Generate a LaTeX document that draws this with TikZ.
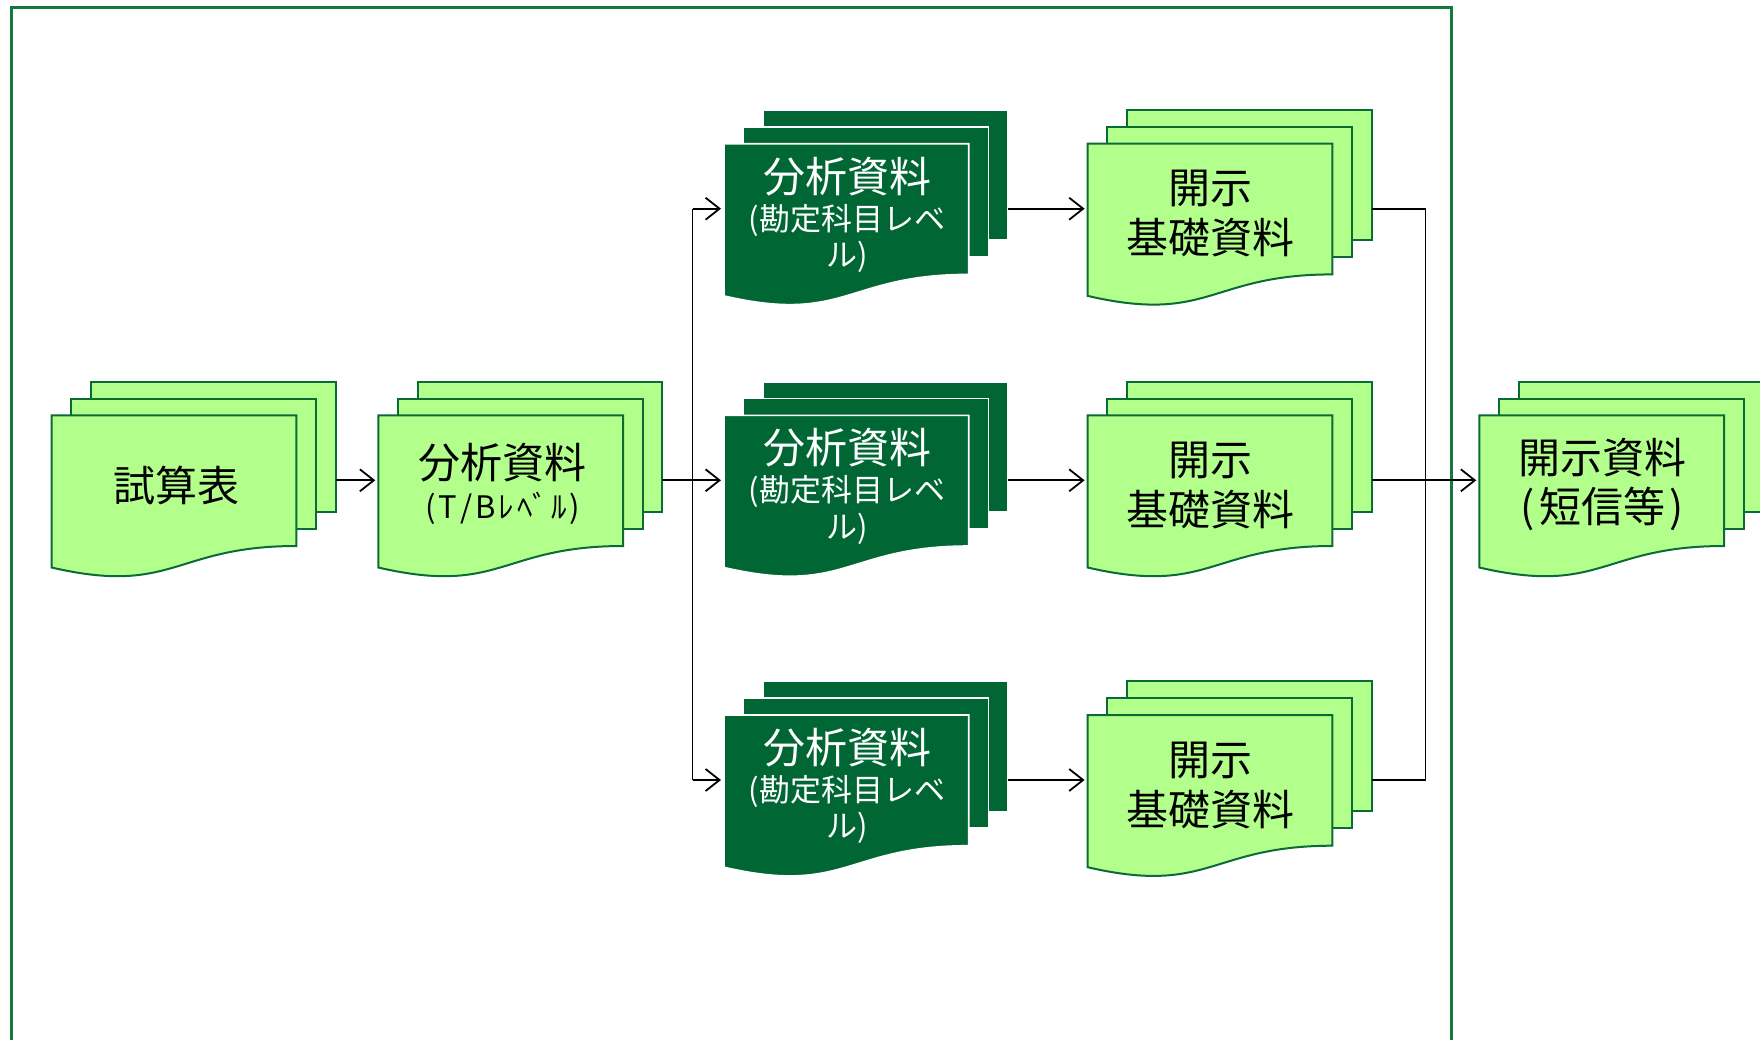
\documentclass[tikz,border=0pt]{standalone}
\usepackage{fontspec}
\setmainfont{Noto Sans CJK JP}
\usetikzlibrary{arrows.meta}
\definecolor{lgreen}{HTML}{B3FF8C}
\definecolor{dgreen}{HTML}{006633}
\definecolor{edgegreen}{HTML}{0B6B35}
\definecolor{framegreen}{HTML}{137A3E}
\tikzset{
  lay/.style={minimum width=244.7pt, minimum height=130pt, inner sep=0pt, outer sep=0pt},
  lightdoc/.style={fill=lgreen, draw=edgegreen, line width=2pt, line join=miter},
  darkdoc/.style={fill=dgreen, draw=white, line width=1.6pt, line join=miter},
  bigtxt/.style={inner sep=0pt, font=\fontsize{42}{48}\selectfont},
  smalltxt/.style={inner sep=0pt, font=\fontsize{31}{36}\selectfont},
  conn/.style={line width=1.8pt, draw=black},
  arr/.style={conn, -{Straight Barb[length=14pt,width=22pt,line width=1.8pt]}, shorten >=3pt},
  frameline/.style={draw=framegreen, line width=3pt}
}
\newcommand{\docgroup}[4]{%
  \begin{scope}[shift={(#2,#3)}]
    \node[lay, #4, anchor=north west] (#1-b) at (39.2,-33.6) {};
    \node[lay, #4, anchor=north west] (#1-m) at (19.6,-16.8) {};
    \path[#4] (0,0) -- (244.7,0) -- (244.7,130.7)
       .. controls (122.35,130.7) and (122.35,180.5) .. (0,152.2) -- cycle;
    \node[lay, anchor=north west] (#1) at (0,0) {};
  \end{scope}}
\newcommand{\ks}{\kern3pt}
\begin{document}
\begin{tikzpicture}[x=1pt,y=-1pt]
\clip (0,0) rectangle (1760,1039);
\fill[white] (0,0) rectangle (1760,1039);
% frame
\draw[frameline] (11,1050) -- (11,7) -- (1451,7) -- (1451,1050);

% groups
\docgroup{s}{51.6}{415.3}{lightdoc}
\docgroup{tb}{378.3}{415.3}{lightdoc}
\docgroup{d1}{724}{143.7}{darkdoc}
\docgroup{d2}{724}{415.3}{darkdoc}
\docgroup{d3}{724}{715}{darkdoc}
\docgroup{k1}{1087.6}{143.7}{lightdoc}
\docgroup{k2}{1087.6}{415.3}{lightdoc}
\docgroup{k3}{1087.6}{715}{lightdoc}
\docgroup{fin}{1479.3}{415.3}{lightdoc}

% texts
\node[bigtxt] (t-s) at (176,485) {試算表};
\node[bigtxt] (t-tb1) at (502.8,462.4) {分析資料};
\node[smalltxt] (t-tb2) at (502.8,508.5) {(\ks T\ks/\ks B\ks ﾚ\ks ﾍﾞ\ks ﾙ\ks)};
\foreach \n/\y in {d1/143.7,d2/415.3,d3/715}{
  \node[bigtxt, text=white] (t-\n a) at (847,\y+32.5) {分析資料};
  \node[smalltxt, text=white] (t-\n b) at (847,\y+76.3) {(勘定科目レベ};
  \node[smalltxt, text=white] (t-\n c) at (847,\y+113.3) {ル)};
}
\foreach \n/\y in {k1/143.7,k2/415.3,k3/715}{
  \node[bigtxt] (t-\n a) at (1210,\y+45) {開示};
  \node[bigtxt] (t-\n b) at (1210,\y+94.3) {基礎資料};
}
\node[bigtxt] (t-fa) at (1602,458) {開示資料};
\node[bigtxt] (t-fb) at (1602,508.5) {(\kern4pt 短信等\kern4pt)};

% connectors
\coordinate (br1) at (692.5,480.4);
\coordinate (br2) at (1425.5,480.4);
\draw[arr] (s-b.east |- s.east) -- (tb.west);
\draw[arr] (tb-b.east |- tb.east) -- (d2.west);
\draw[conn] (br1 |- d1.west) -- (br1 |- d3.west);
\draw[arr] (br1 |- d1.west) -- (d1.west);
\draw[arr] (br1 |- d3.west) -- (d3.west);
\draw[arr] (d1-b.east |- d1.east) -- (k1.west);
\draw[arr] (d2-b.east |- d2.east) -- (k2.west);
\draw[arr] (d3-b.east |- d3.east) -- (k3.west);
\draw[conn] (k1-b.east |- k1.east) -- (br2 |- k1.east) -- (br2 |- k3.east) -- (k3-b.east |- k3.east);
\draw[arr] (k2-b.east |- k2.east) -- (fin.west);
\end{tikzpicture}
\end{document}
